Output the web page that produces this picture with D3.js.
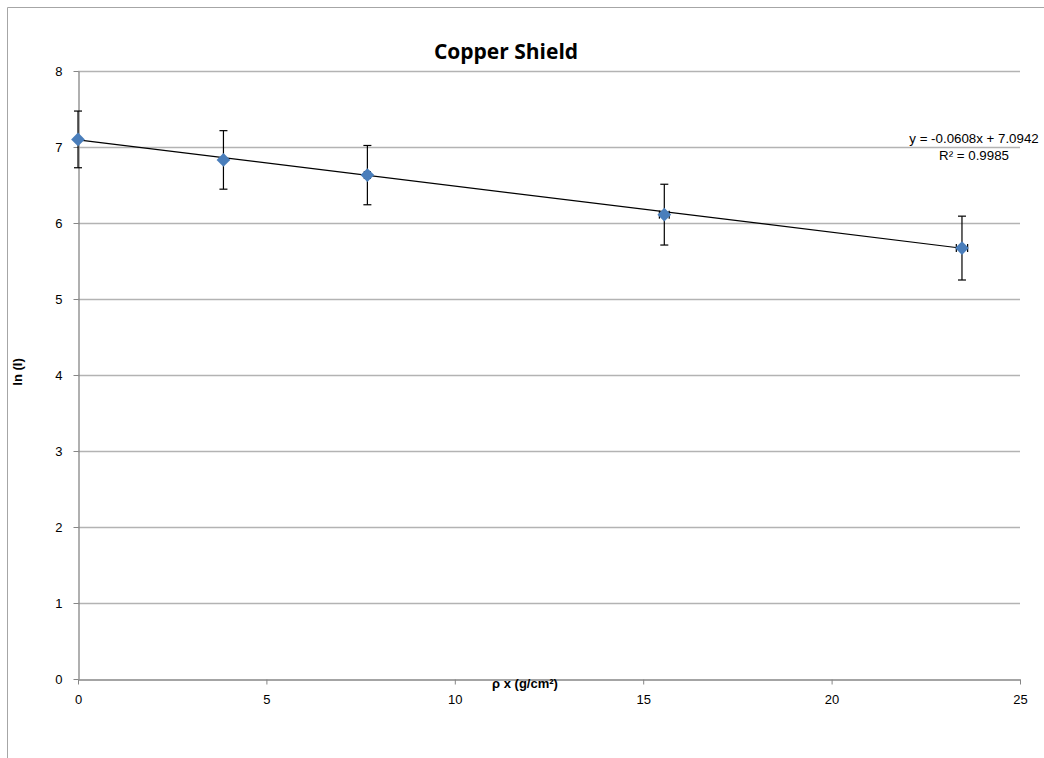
<!DOCTYPE html>
<html><head><meta charset="utf-8">
<script src="https://cdn.jsdelivr.net/npm/d3@7"></script>
<style>body{margin:0;background:#fff;} svg{display:block;}</style>
</head><body>
<script>
const title = "Copper Shield";
const xLabel = "ρ x (g/cm²)";
const yLabel = "ln (I)";
const xValues = [0, 3.86, 7.68, 15.56, 23.46];
const yValues = [7.10, 6.83, 6.63, 6.11, 5.67];
const yErrors = [0.373, 0.385, 0.39, 0.40, 0.42];
const xErrors = [0.0, 0.04, 0.08, 0.13, 0.15];
const xTicks = [0, 5, 10, 15, 20, 25];
const yTicks = [0, 1, 2, 3, 4, 5, 6, 7, 8];
const slope = -0.0608, intercept = 7.0942;
const eqText = "y = -0.0608x + 7.0942";
const r2Text = "R² = 0.9985";

const W = 1044, H = 758;
const svg = d3.select("body").append("svg").attr("width", W).attr("height", H);
const font = "'Liberation Sans', Arial, sans-serif";

// outer border (left & top visible)
svg.append("line").attr("x1",7.5).attr("x2",7.5).attr("y1",7.5).attr("y2",H).attr("stroke","#a6a6a6");
svg.append("line").attr("x1",7.5).attr("x2",W).attr("y1",7.5).attr("y2",7.5).attr("stroke","#a6a6a6");

const x = d3.scaleLinear().domain([0,25]).range([78,1020]);
const y = d3.scaleLinear().domain([0,8]).range([679,71]);

// gridlines
svg.append("g").selectAll("line").data(yTicks.filter(d=>d>0)).join("line")
  .attr("x1", x(0)).attr("x2", x(25))
  .attr("y1", d=>Math.round(y(d))+0.5).attr("y2", d=>Math.round(y(d))+0.5)
  .attr("stroke","#b3b3b3").attr("stroke-width",1.3);

// axes
const xAxis = svg.append("g").attr("transform",`translate(0,${Math.round(y(0))+0.5})`)
  .call(d3.axisBottom(x).tickValues(xTicks).tickSize(5).tickPadding(10).tickSizeOuter(0));
const yAxis = svg.append("g").attr("transform",`translate(${Math.round(x(0))+0.5},0)`)
  .call(d3.axisLeft(y).tickValues(yTicks).tickSize(5).tickPadding(11).tickSizeOuter(0));
[xAxis,yAxis].forEach(a=>{
  a.select(".domain").attr("stroke","#868686").attr("stroke-width",1.3);
  a.selectAll(".tick line").attr("stroke","#868686");
  a.selectAll(".tick text").attr("font-family",font).attr("font-size",13).attr("fill","#000");
});

// trendline
const xMin = d3.min(xValues), xMax = d3.max(xValues);
svg.append("line")
  .attr("x1", x(xMin)).attr("y1", y(slope*xMin+intercept))
  .attr("x2", x(xMax)).attr("y2", y(slope*xMax+intercept))
  .attr("stroke","#000").attr("stroke-width",1.2);

const pts = xValues.map((v,i)=>({x:v,y:yValues[i],ey:yErrors[i],ex:xErrors[i]}));
// error bars
const eb = svg.append("g").attr("stroke","#000").attr("stroke-width",1.2);
pts.forEach(p=>{
  const cx = x(p.x), cy = y(p.y), top = y(p.y+p.ey), bot = y(p.y-p.ey);
  eb.append("line").attr("x1",cx).attr("x2",cx).attr("y1",top).attr("y2",bot);
  eb.append("line").attr("x1",cx-4).attr("x2",cx+4).attr("y1",top).attr("y2",top);
  eb.append("line").attr("x1",cx-4).attr("x2",cx+4).attr("y1",bot).attr("y2",bot);
  if (p.ex>0){
    const l = x(p.x-p.ex), r = x(p.x+p.ex);
    eb.append("line").attr("x1",l).attr("x2",r).attr("y1",cy).attr("y2",cy);
    eb.append("line").attr("x1",l).attr("x2",l).attr("y1",cy-4).attr("y2",cy+4);
    eb.append("line").attr("x1",r).attr("x2",r).attr("y1",cy-4).attr("y2",cy+4);
  }
});
// markers
svg.append("g").selectAll("path").data(pts).join("path")
  .attr("d", d3.symbol(d3.symbolDiamond2 || d3.symbolDiamond, 120))
  .attr("transform", d=>`translate(${x(d.x)},${y(d.y)})`)
  .attr("fill","#4a7ebb");

// title
svg.append("text").attr("x",506).attr("y",59).attr("text-anchor","middle")
  .attr("font-family","'Open Sans', sans-serif").attr("font-weight","bold").attr("font-size",21)
  .text(title);
// axis labels
svg.append("text").attr("x",525).attr("y",688).attr("text-anchor","middle")
  .attr("font-family",font).attr("font-weight","bold").attr("font-size",13).text(xLabel);
svg.append("text").attr("transform","translate(22,372) rotate(-90)").attr("text-anchor","middle")
  .attr("font-family",font).attr("font-weight","bold").attr("font-size",13).text(yLabel);
// equation
svg.append("text").attr("x",974).attr("y",143).attr("text-anchor","middle")
  .attr("font-family",font).attr("font-size",13.3).text(eqText);
svg.append("text").attr("x",974).attr("y",160).attr("text-anchor","middle")
  .attr("font-family",font).attr("font-size",13.3).text(r2Text);
</script>
</body></html>
